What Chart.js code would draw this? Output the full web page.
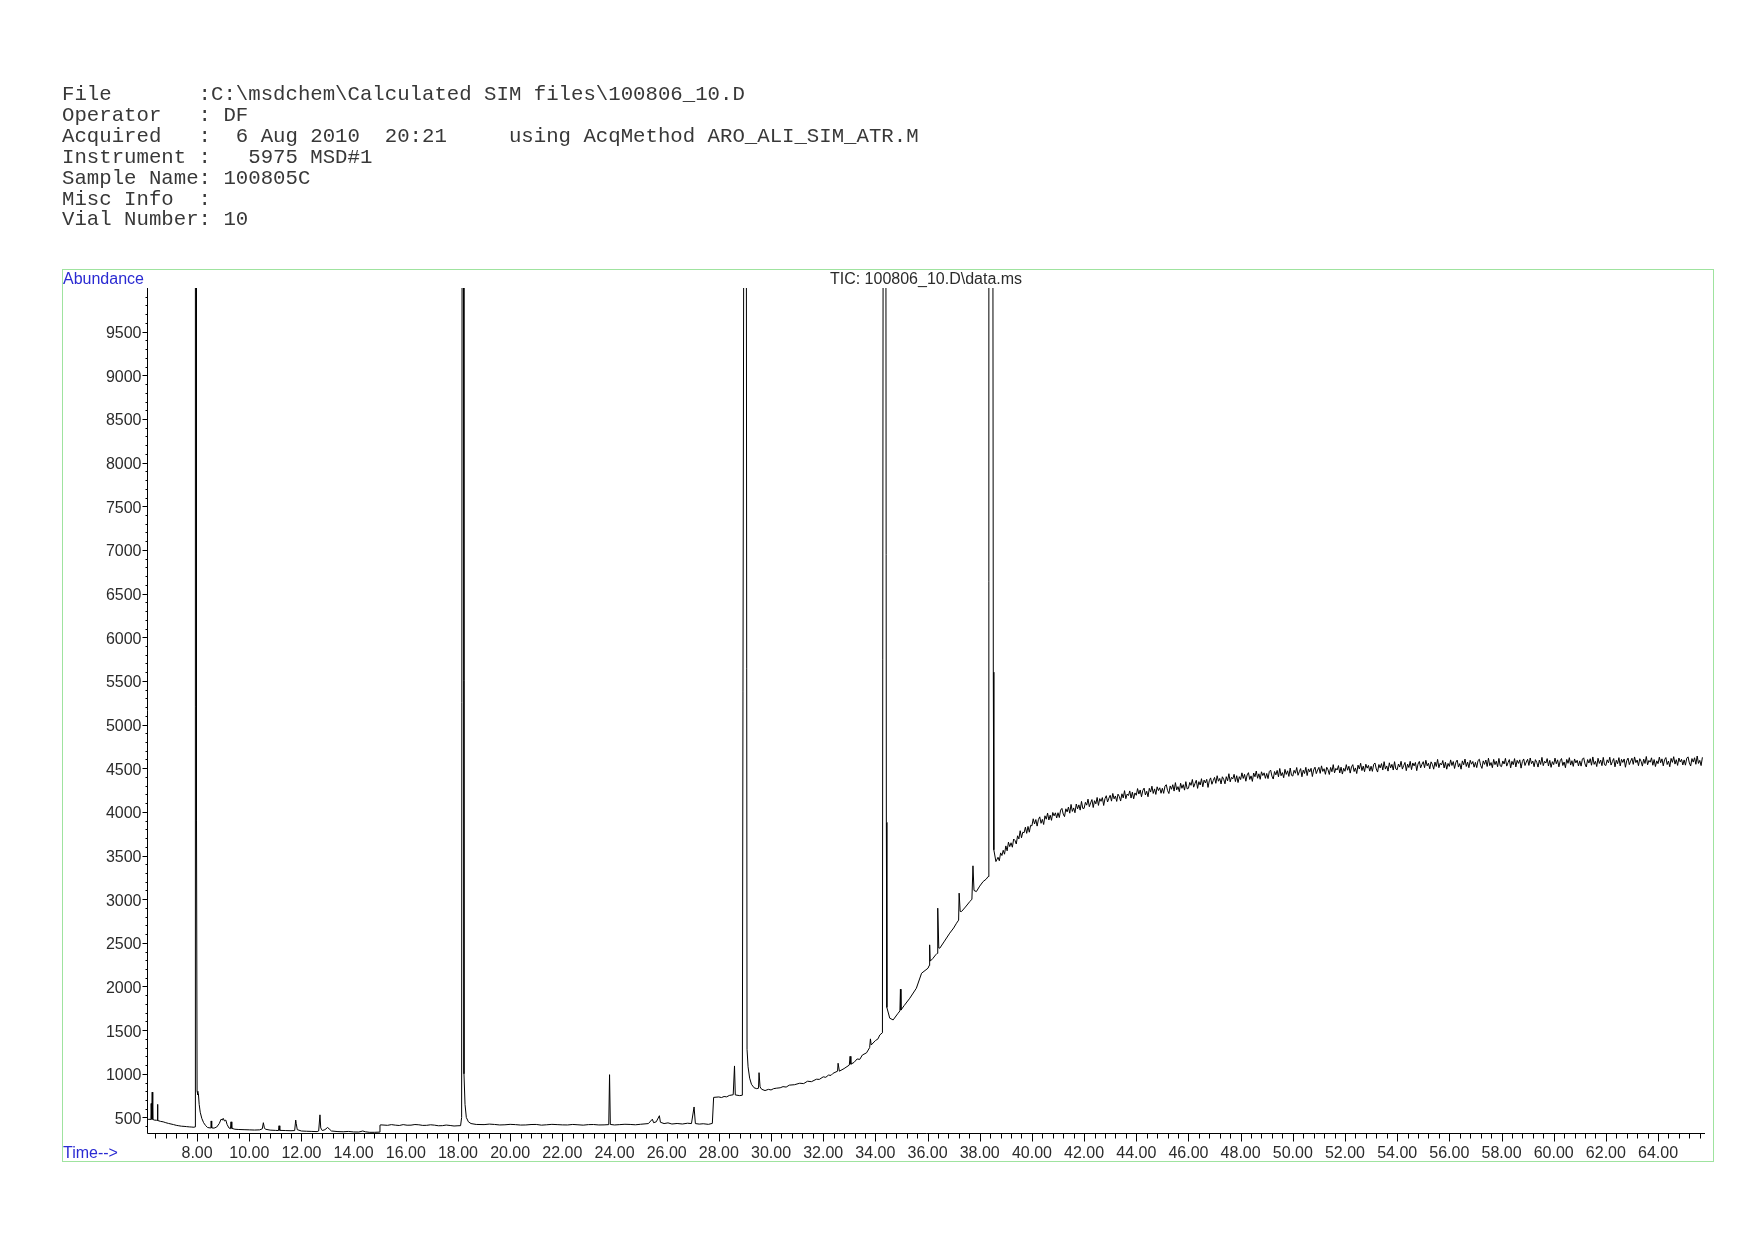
<!DOCTYPE html>
<html>
<head>
<meta charset="utf-8">
<script src="https://cdn.jsdelivr.net/npm/chart.js@4.4.1/dist/chart.umd.min.js"></script>
<style>
  html, body { margin: 0; padding: 0; background: #fff; }
  body { width: 1754px; height: 1240px; position: relative; overflow: hidden; }
  #myChart { position: absolute; left: 0; top: 0; }
  #header {
    position: absolute; left: 62px; top: 85px; margin: 0;
    font-family: 'Liberation Mono', 'Courier New', monospace;
    font-size: 20.7px; line-height: 20.9px; color: #383838;
  }
</style>
</head>
<body>
<canvas id="myChart" width="1754" height="1240"></canvas>
<pre id="header">File       :C:\msdchem\Calculated SIM files\100806_10.D
Operator   : DF
Acquired   :  6 Aug 2010  20:21     using AcqMethod ARO_ALI_SIM_ATR.M
Instrument :   5975 MSD#1
Sample Name: 100805C
Misc Info  :
Vial Number: 10</pre>
<script>
// chromatogram trace, [time (min), abundance]; peaks above 10000 are off scale
const segInjection = [
  [6.10,471],[6.15,480],[6.20,478],[6.23,476],[6.24,660],[6.25,482],[6.27,480],[6.28,790],[6.30,478],[6.36,470],
  [6.44,468],[6.47,466],[6.48,650],[6.50,465],[6.60,455],[6.70,450],[6.80,440],[6.90,432],[7.00,425],[7.10,418],
  [7.20,410],[7.30,405],[7.40,400],[7.50,398],[7.60,395],[7.70,392],[7.80,390],[7.88,388],[7.92,392],[7.93,3900],
  [7.94,12000],[7.96,12000],[7.97,5200],[7.985,3900],[8.00,800],[8.03,760],[8.05,770],[8.08,650],[8.12,560],[8.18,490],
  [8.25,440],[8.32,410],[8.40,385],[8.50,380],[8.53,382],[8.54,460],[8.56,380],[8.65,378],[8.75,390],[8.85,430],
  [8.92,480],[8.97,470],[9.00,490],[9.05,460],[9.10,470],[9.15,420],[9.22,380],[9.28,372],[9.30,450],[9.33,375],
  [9.45,365],[9.60,362],[9.80,360],[10.00,358],[10.20,356],[10.40,358],[10.50,370],[10.54,440],[10.58,380],[10.62,365],
  [10.80,355],[11.00,352],[11.12,350],[11.14,405],[11.17,352],[11.40,350],[11.60,348],[11.74,350],[11.78,470],[11.80,430],
  [11.84,360],[12.00,345],[12.20,342],[12.40,340],[12.60,338],[12.66,345],[12.71,530],[12.74,380],[12.80,350],[12.90,360],
  [13.00,385],[13.06,370],[13.15,345],[13.40,338],[13.60,336],[13.80,340],[14.00,334],[14.20,333],[14.35,345],[14.45,336],
  [14.60,330],[14.80,330],[14.98,332]
];
const segMid = [
  [15.01,412],[15.05,415],[15.30,410],[15.45,418],[15.60,412],[15.75,408],[15.90,418],[16.05,411],[16.20,412],[16.35,419],
  [16.50,416],[16.65,409],[16.80,410],[16.95,416],[17.10,412],[17.25,405],[17.40,406],[17.55,413],[17.70,408],[17.85,402],
  [18.00,405],[18.10,406],[18.14,500],[18.16,12000],[18.21,12000],[18.23,1000],[18.27,650],[18.32,500],[18.40,450],[18.50,430],
  [18.70,420],[19.00,418],[19.20,424],[19.40,420],[19.60,414],[19.80,416],[20.00,421],[20.20,418],[20.40,413],[20.60,414],
  [20.80,419],[21.00,420],[21.20,412],[21.40,416],[21.60,421],[21.80,418],[22.00,415],[22.20,414],[22.40,420],[22.60,416],
  [22.80,412],[23.00,418],[23.20,419],[23.40,414],[23.60,415],[23.78,418],[23.81,990],[23.84,420],[24.00,414],[24.20,418],
  [24.40,422],[24.60,420],[24.80,416],[25.00,422],[25.30,430],[25.45,480],[25.50,440],[25.60,450],[25.72,520],[25.76,445],
  [25.90,430],[26.05,438],[26.20,425],[26.40,431],[26.60,425],[26.80,434],[26.95,430],[27.05,620],[27.10,430],[27.25,424],
  [27.40,428],[27.60,421],[27.75,432],[27.80,730],[28.00,735],[28.10,728],[28.20,740],[28.30,736],[28.40,752],[28.55,760],
  [28.60,1090],[28.63,758],[28.80,750],[28.90,755]
];
const segRamp = [
  [28.96,12000],[29.05,12000],[29.08,1280],[29.12,1080],[29.18,950],[29.25,880],[29.35,840],[29.45,830],[29.52,835],[29.54,1013],
  [29.58,850],[29.64,823],[29.77,808],[29.90,822],[30.00,815],[30.10,830],[30.20,835],[30.35,840],[30.46,853],[30.58,848],
  [30.70,870],[30.90,875],[31.10,892],[31.25,888],[31.40,915],[31.55,910],[31.74,938],[31.85,936],[32.00,965],[32.10,960],
  [32.20,985],[32.30,982],[32.38,1006],[32.55,1030],[32.57,1121],[32.62,1030],[32.80,1060],[33.00,1100],[33.03,1200],[33.06,1110],
  [33.18,1130],[33.30,1170],[33.40,1165],[33.50,1215],[33.66,1240],[33.78,1300],[33.81,1400],[33.84,1330],[34.00,1380],[34.10,1400],
  [34.17,1445],[34.27,1470],[34.30,12000],[34.40,12000],[34.42,3880],[34.44,1760],[34.55,1637],[34.68,1617],[34.87,1694],[34.94,1720],
  [34.96,1969],[34.98,1730],[35.10,1780],[35.32,1866],[35.57,1980],[35.77,2152],[36.02,2210],[36.06,2240],[36.08,2477],[36.10,2290],
  [36.20,2320],[36.31,2362],[36.37,2380],[36.39,2897],[36.43,2440],[36.47,2439],[36.65,2520],[36.85,2611],[37.00,2670],[37.11,2725],
  [37.19,2760],[37.21,3069],[37.25,2860],[37.30,2858],[37.45,2910],[37.62,2973],[37.70,3000],[37.74,3382],[37.78,3100],[37.87,3087],
  [38.00,3150],[38.13,3202],[38.25,3230],[38.32,3259],[38.35,12000],[38.50,12000],[38.52,5600],[38.54,3565],[38.62,3431]
];
const segPlateau = [
  [38.70,3480],[38.75,3440],[38.80,3530],[38.85,3500],[38.90,3560],[38.95,3515],
  [39.00,3610],[39.05,3554],[39.10,3653],[39.15,3602],[39.20,3646],[39.25,3595],[39.30,3689],[39.35,3673],[39.40,3632],[39.45,3726],
  [39.50,3690],[39.55,3784],[39.60,3703],[39.65,3767],[39.70,3761],[39.75,3825],[39.80,3754],[39.85,3833],[39.90,3767],[39.95,3846],
  [40.00,3840],[40.05,3921],[40.10,3861],[40.15,3912],[40.20,3837],[40.25,3913],[40.30,3943],[40.35,3869],[40.40,3914],[40.45,3855],
  [40.50,3955],[40.55,3916],[40.60,3986],[40.65,3907],[40.70,3962],[40.75,3903],[40.80,3993],[40.85,3954],[40.90,3989],[40.95,3930],
  [41.00,3990],[41.05,3935],[41.10,4020],[41.15,4040],[41.20,3975],[41.25,3945],[41.30,4035],[41.35,4000],[41.40,4055],[41.45,3985],
  [41.50,4085],[41.55,4005],[41.60,4045],[41.65,3990],[41.70,4090],[41.75,4035],[41.80,4080],[41.85,4020],[41.90,4120],[41.95,4040],
  [42.00,4040],[42.05,4109],[42.10,4077],[42.15,4146],[42.20,4059],[42.25,4103],[42.30,4141],[42.35,4050],[42.40,4128],[42.45,4092],
  [42.50,4165],[42.55,4074],[42.60,4152],[42.65,4121],[42.70,4164],[42.75,4073],[42.80,4151],[42.85,4185],[42.90,4113],[42.95,4157],
  [43.00,4190],[43.05,4123],[43.10,4211],[43.15,4149],[43.20,4182],[43.25,4120],[43.30,4203],[43.35,4176],[43.40,4124],[43.45,4207],
  [43.50,4160],[43.55,4243],[43.60,4151],[43.65,4204],[43.70,4187],[43.75,4240],[43.80,4158],[43.85,4226],[43.90,4149],[43.95,4217],
  [44.00,4190],[44.05,4267],[44.10,4204],[44.15,4251],[44.20,4173],[44.25,4245],[44.30,4272],[44.35,4194],[44.40,4236],[44.45,4173],
  [44.50,4270],[44.55,4227],[44.60,4294],[44.65,4211],[44.70,4263],[44.75,4200],[44.80,4287],[44.85,4244],[44.90,4276],[44.95,4213],
  [45.00,4270],[45.05,4212],[45.10,4294],[45.15,4311],[45.20,4243],[45.25,4210],[45.30,4297],[45.35,4259],[45.40,4311],[45.45,4238],
  [45.50,4335],[45.55,4252],[45.60,4289],[45.65,4231],[45.70,4328],[45.75,4270],[45.80,4312],[45.85,4249],[45.90,4346],[45.95,4263],
  [46.00,4270],[46.05,4337],[46.10,4304],[46.15,4371],[46.20,4283],[46.25,4325],[46.30,4362],[46.35,4269],[46.40,4346],[46.45,4308],
  [46.50,4380],[46.55,4287],[46.60,4364],[46.65,4331],[46.70,4373],[46.75,4280],[46.80,4357],[46.85,4389],[46.90,4316],[46.95,4358],
  [47.00,4395],[47.05,4327],[47.10,4414],[47.15,4351],[47.20,4383],[47.25,4320],[47.30,4402],[47.35,4374],[47.40,4321],[47.45,4403],
  [47.50,4355],[47.55,4437],[47.60,4344],[47.65,4396],[47.70,4378],[47.75,4430],[47.80,4347],[47.85,4414],[47.90,4336],[47.95,4403],
  [48.00,4370],[48.05,4447],[48.10,4383],[48.15,4430],[48.20,4351],[48.25,4423],[48.30,4449],[48.35,4371],[48.40,4412],[48.45,4349],
  [48.50,4445],[48.55,4402],[48.60,4468],[48.65,4385],[48.70,4436],[48.75,4373],[48.80,4459],[48.85,4416],[48.90,4447],[48.95,4384],
  [49.00,4440],[49.05,4381],[49.10,4462],[49.15,4478],[49.20,4410],[49.25,4376],[49.30,4462],[49.35,4424],[49.40,4475],[49.45,4401],
  [49.50,4497],[49.55,4414],[49.60,4450],[49.65,4391],[49.70,4487],[49.75,4429],[49.80,4470],[49.85,4406],[49.90,4502],[49.95,4419],
  [50.00,4410],[50.05,4476],[50.10,4442],[50.15,4508],[50.20,4419],[50.25,4460],[50.30,4496],[50.35,4402],[50.40,4478],[50.45,4439],
  [50.50,4510],[50.55,4416],[50.60,4492],[50.65,4458],[50.70,4499],[50.75,4405],[50.80,4481],[50.85,4512],[50.90,4438],[50.95,4479],
  [51.00,4510],[51.05,4441],[51.10,4527],[51.15,4463],[51.20,4494],[51.25,4430],[51.30,4511],[51.35,4482],[51.40,4428],[51.45,4509],
  [51.50,4460],[51.55,4541],[51.60,4447],[51.65,4498],[51.70,4479],[51.75,4530],[51.80,4446],[51.85,4512],[51.90,4433],[51.95,4499],
  [52.00,4465],[52.05,4541],[52.10,4477],[52.15,4523],[52.20,4444],[52.25,4515],[52.30,4541],[52.35,4462],[52.40,4503],[52.45,4439],
  [52.50,4535],[52.55,4491],[52.60,4557],[52.65,4473],[52.70,4524],[52.75,4460],[52.80,4546],[52.85,4501],[52.90,4532],[52.95,4467],
  [53.00,4523],[53.05,4464],[53.10,4544],[53.15,4560],[53.20,4491],[53.25,4456],[53.30,4542],[53.35,4503],[53.40,4553],[53.45,4479],
  [53.50,4575],[53.55,4490],[53.60,4526],[53.65,4467],[53.70,4562],[53.75,4503],[53.80,4544],[53.85,4479],[53.90,4575],[53.95,4491],
  [54.00,4482],[54.05,4548],[54.10,4513],[54.15,4579],[54.20,4490],[54.25,4530],[54.30,4566],[54.35,4472],[54.40,4547],[54.45,4508],
  [54.50,4579],[54.55,4484],[54.60,4560],[54.65,4526],[54.70,4566],[54.75,4472],[54.80,4548],[54.85,4578],[54.90,4504],[54.95,4544],
  [55.00,4575],[55.05,4506],[55.10,4591],[55.15,4527],[55.20,4557],[55.25,4493],[55.30,4573],[55.35,4544],[55.40,4489],[55.45,4570],
  [55.50,4520],[55.55,4601],[55.60,4506],[55.65,4557],[55.70,4537],[55.75,4588],[55.80,4503],[55.85,4569],[55.90,4489],[55.95,4555],
  [56.00,4520],[56.05,4595],[56.10,4531],[56.15,4576],[56.20,4497],[56.25,4567],[56.30,4593],[56.35,4513],[56.40,4553],[56.45,4489],
  [56.50,4584],[56.55,4539],[56.60,4605],[56.65,4520],[56.70,4570],[56.75,4506],[56.80,4591],[56.85,4546],[56.90,4577],[56.95,4512],
  [57.00,4567],[57.05,4507],[57.10,4588],[57.15,4603],[57.20,4533],[57.25,4498],[57.30,4584],[57.35,4544],[57.40,4594],[57.45,4520],
  [57.50,4615],[57.55,4530],[57.60,4565],[57.65,4506],[57.70,4601],[57.75,4541],[57.80,4581],[57.85,4517],[57.90,4612],[57.95,4527],
  [58.00,4518],[58.05,4583],[58.10,4548],[58.15,4613],[58.20,4524],[58.25,4564],[58.30,4599],[58.35,4504],[58.40,4579],[58.45,4540],
  [58.50,4610],[58.55,4515],[58.60,4590],[58.65,4555],[58.70,4596],[58.75,4501],[58.80,4576],[58.85,4606],[58.90,4531],[58.95,4571],
  [59.00,4602],[59.05,4532],[59.10,4617],[59.15,4552],[59.20,4582],[59.25,4517],[59.30,4598],[59.35,4568],[59.40,4513],[59.45,4593],
  [59.50,4543],[59.55,4624],[59.60,4529],[59.65,4579],[59.70,4559],[59.75,4610],[59.80,4525],[59.85,4590],[59.90,4510],[59.95,4575],
  [60.00,4541],[60.05,4616],[60.10,4551],[60.15,4596],[60.20,4516],[60.25,4586],[60.30,4611],[60.35,4531],[60.40,4571],[60.45,4506],
  [60.50,4601],[60.55,4556],[60.60,4621],[60.65,4536],[60.70,4586],[60.75,4521],[60.80,4606],[60.85,4561],[60.90,4591],[60.95,4526],
  [61.00,4584],[61.05,4524],[61.10,4604],[61.15,4619],[61.20,4549],[61.25,4514],[61.30,4599],[61.35,4559],[61.40,4609],[61.45,4534],
  [61.50,4629],[61.55,4544],[61.60,4579],[61.65,4519],[61.70,4614],[61.75,4554],[61.80,4594],[61.85,4529],[61.90,4624],[61.95,4539],
  [62.00,4531],[62.05,4596],[62.10,4561],[62.15,4626],[62.20,4536],[62.25,4576],[62.30,4611],[62.35,4516],[62.40,4591],[62.45,4551],
  [62.50,4621],[62.55,4526],[62.60,4601],[62.65,4566],[62.70,4606],[62.75,4511],[62.80,4586],[62.85,4616],[62.90,4541],[62.95,4581],
  [63.00,4614],[63.05,4544],[63.10,4629],[63.15,4564],[63.20,4594],[63.25,4529],[63.30,4609],[63.35,4579],[63.40,4524],[63.45,4604],
  [63.50,4554],[63.55,4634],[63.60,4539],[63.65,4589],[63.70,4569],[63.75,4619],[63.80,4534],[63.85,4599],[63.90,4519],[63.95,4584],
  [64.00,4552],[64.05,4627],[64.10,4562],[64.15,4607],[64.20,4527],[64.25,4597],[64.30,4622],[64.35,4542],[64.40,4582],[64.45,4517],
  [64.50,4612],[64.55,4567],[64.60,4632],[64.65,4547],[64.70,4597],[64.75,4532],[64.80,4617],[64.85,4572],[64.90,4602],[64.95,4537],
  [65.00,4595],[65.05,4535],[65.10,4615],[65.15,4630],[65.20,4560],[65.25,4525],[65.30,4610],[65.35,4570],[65.40,4620],[65.45,4545],
  [65.50,4640],[65.55,4555],[65.60,4590],[65.65,4530],[65.70,4625]
];

// axis ticks
const yTickValues = [500, 1000, 1500, 2000, 2500, 3000, 3500, 4000, 4500, 5000,
                     5500, 6000, 6500, 7000, 7500, 8000, 8500, 9000, 9500];
const xTickValues = [8, 10, 12, 14, 16, 18, 20, 22, 24, 26, 28, 30, 32, 34, 36,
                     38, 40, 42, 44, 46, 48, 50, 52, 54, 56, 58, 60, 62, 64];
const xTickLabels = xTickValues.map(t => t.toFixed(2));

const trace = [...segInjection, ...segMid, ...segRamp, ...segPlateau].map(p => ({ x: p[0], y: p[1] }));

const labelFont = '16px "Liberation Sans", Arial, sans-serif';
const blue = '#2a2ad2';

// draws frame, axes, ticks and captions in the style of a ChemStation printout
const axisPainter = {
  id: 'axisPainter',
  afterDraw(chart) {
    const ctx = chart.ctx;
    const area = chart.chartArea;
    const xs = chart.scales.x;
    const ys = chart.scales.y;
    ctx.save();

    ctx.strokeStyle = '#9fe39f';
    ctx.lineWidth = 1;
    ctx.strokeRect(62.5, 269.5, 1651, 892);

    const x0 = Math.round(area.left) + 0.5;
    const yb = Math.round(area.bottom) + 0.5;
    ctx.strokeStyle = '#000';
    ctx.beginPath();
    ctx.moveTo(x0, Math.round(area.top));
    ctx.lineTo(x0, yb);
    ctx.lineTo(Math.round(area.right), yb);
    for (let v = 400; v <= 9900; v += 100) {
      const py = Math.round(ys.getPixelForValue(v)) + 0.5;
      const len = v % 500 === 0 ? 5 : 2;
      ctx.moveTo(x0 - len, py);
      ctx.lineTo(x0, py);
    }
    for (let k = 16; k <= 164; k++) {
      const px = Math.round(xs.getPixelForValue(k * 0.4)) + 0.5;
      const len = k % 5 === 0 ? 8 : 5;
      ctx.moveTo(px, yb);
      ctx.lineTo(px, yb + len);
    }
    ctx.stroke();

    ctx.font = labelFont;
    ctx.fillStyle = '#2b2b2b';
    ctx.textBaseline = 'middle';
    ctx.textAlign = 'right';
    yTickValues.forEach(v => {
      ctx.fillText(String(v), x0 - 6, ys.getPixelForValue(v) + 2);
    });
    ctx.textAlign = 'center';
    xTickValues.forEach((t, i) => {
      ctx.fillText(xTickLabels[i], xs.getPixelForValue(t), 1154);
    });
    ctx.fillText('TIC: 100806_10.D\\data.ms', (area.left + area.right) / 2, 280);

    ctx.textAlign = 'left';
    ctx.fillStyle = blue;
    ctx.fillText('Abundance', 63, 280);
    ctx.fillText('Time-->', 63, 1154);
    ctx.restore();
  }
};

const ctx = document.getElementById('myChart').getContext('2d');
const myChart = new Chart(ctx, {
  type: 'line',
  data: {
    datasets: [{
      data: trace,
      borderColor: '#000',
      borderWidth: 1,
      pointRadius: 0,
      tension: 0,
      fill: false,
    }],
  },
  options: {
    responsive: false,
    animation: false,
    events: [],
    layout: { padding: { left: 147, top: 288, right: 49, bottom: 107 } },
    plugins: { legend: { display: false }, tooltip: { enabled: false } },
    scales: {
      x: { type: 'linear', min: 6.08, max: 65.8, display: false },
      y: { type: 'linear', min: 322, max: 10000, display: false },
    },
  },
  plugins: [axisPainter],
});
</script>
</body>
</html>
